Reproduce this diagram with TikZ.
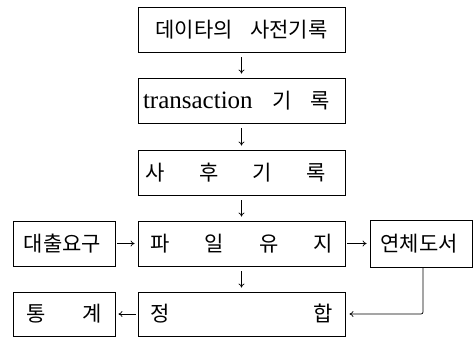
\documentclass[tikz,border=0pt]{standalone}
\usepackage{fontspec}
\newfontfamily\kr{Noto Sans CJK KR}
\newfontfamily\tms{Liberation Serif}
\usetikzlibrary{arrows.meta}
\begin{document}
\begin{tikzpicture}[x=1pt,y=-1pt,
  box/.style={draw, line width=0.9pt, inner sep=0pt, minimum width=207pt, minimum height=45pt,
    font=\kr\fontsize{21}{23}\selectfont},
  sbox/.style={box, minimum width=102pt},
  arr/.style={line width=0.7pt, -{To[length=4pt,width=6pt]}},
  varr/.style={arr, shorten <=5pt, shorten >=4pt},
  harr/.style={arr, shorten <=2pt, shorten >=3pt}]
\useasboundingbox (0,0) rectangle (473,338);
\node[box] (b1) at (241.5,29.5) {\makebox[172pt]{데이타의\hfill 사전기록}};
\node[box] (b2) at (241.5,100.5) {\makebox[187pt]{{\tms\fontsize{25}{27}\selectfont transaction}\hfill 기\hfill 록}\hspace*{10pt}};
\node[box] (b3) at (241.5,172.5) {\makebox[180pt]{사\hfill 후\hfill 기\hfill 록}\hspace*{12pt}};
\node[box] (b4) at (241.5,243.5) {\makebox[183pt]{파\hfill 일\hfill 유\hfill 지}};
\node[box, minimum height=44pt] (b5) at (241.5,314) {\makebox[183pt]{정\hfill 합}};
\node[sbox] (l1) at (64,243.5) {\makebox[81pt]{대출요구}\hspace*{3pt}};
\node[sbox, minimum height=44pt] (l2) at (64,314) {\makebox[75pt]{통\hfill 계}};
\node[sbox, minimum height=47pt] (r1) at (421,243.5) {\makebox[82pt]{연체도서}\hspace*{4pt}};
\draw[varr] (b1) -- (b2);
\draw[varr] (b2) -- (b3);
\draw[varr] (b3) -- (b4);
\draw[varr] (b4) -- (b5);
\draw[harr] (l1) -- (b4);
\draw[harr] (b4) -- (r1);
\draw[harr] (b5) -- (l2);
\draw[arr, shorten >=4pt, rounded corners=2pt] ([xshift=2pt]r1.south) |- (b5.east);
\end{tikzpicture}
\end{document}
